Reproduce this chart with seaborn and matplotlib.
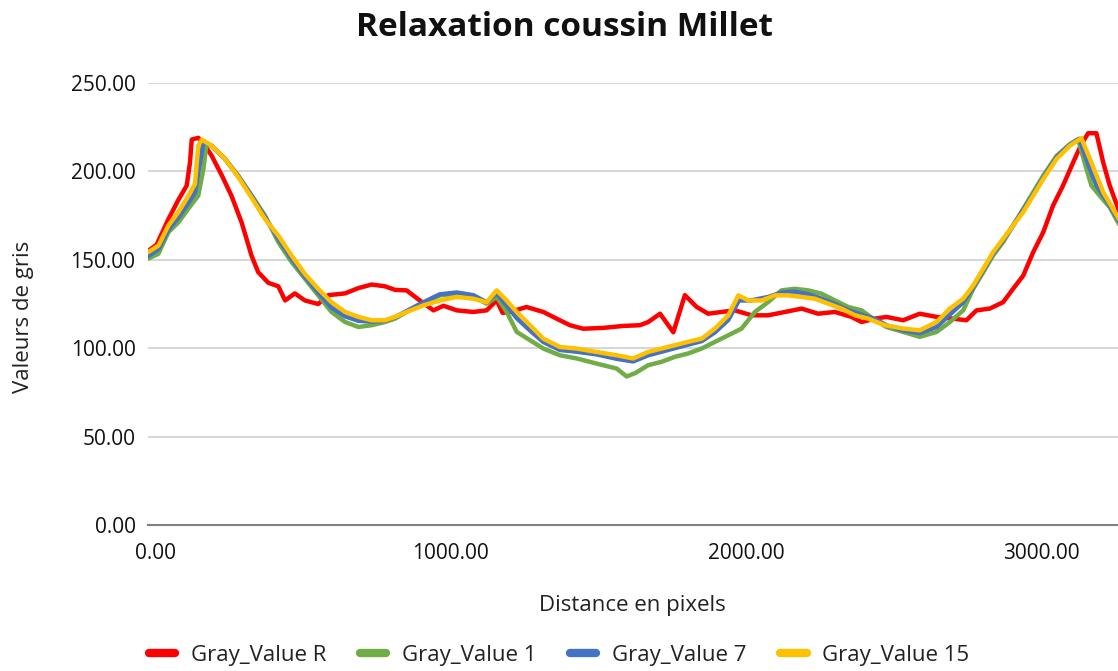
import matplotlib
matplotlib.use("Agg")
import matplotlib.pyplot as plt
import matplotlib.transforms as mtransforms
import pandas as pd
import seaborn as sns

# Valeurs (distance en pixels, valeur de gris)
R_X = [0, 29, 69, 103, 131, 142, 148, 170, 187, 215, 249, 283, 317, 351, 373, 407,
       441, 464, 497, 531, 576, 610, 667, 712, 757, 802, 836, 875, 920, 966, 1000,
       1045, 1101, 1146, 1180, 1200, 1225, 1281, 1338, 1394, 1428, 1473, 1541, 1609,
       1665, 1693, 1733, 1778, 1817, 1857, 1896, 1941, 1986, 2043, 2099, 2156, 2212,
       2268, 2325, 2381, 2415, 2460, 2499, 2556, 2612, 2669, 2725, 2770, 2804, 2849,
       2894, 2928, 2962, 2996, 3030, 3063, 3097, 3131, 3159, 3182, 3210, 3233, 3255, 3290]
R_Y = [155, 158.5, 173, 184, 192, 205, 218, 219, 216, 209, 198, 186, 171, 152, 143, 137,
       135, 127, 131, 127, 125, 130, 131, 134, 136, 135, 133, 132.7, 127, 121.4, 124,
       121.4, 120.5, 121.4, 127, 120, 120.5, 123.3, 120.5, 115.8, 113, 111, 111.5, 112.6,
       113, 114.8, 119.5, 109, 130, 123.3, 119.5, 120.5, 121.4, 118.6, 118.6, 120.5, 122.4,
       119.5, 120.5, 117.7, 114.8, 116.7, 117.7, 115.8, 119.5, 117.7, 116.7, 115.8, 121.4, 122.4,
       126, 133.6, 141, 154.3, 165.6, 180.6, 192, 205, 215.4, 221.6, 221.6, 205, 192, 176]

G_X = [0, 35, 69, 103, 136, 170, 187, 198, 215, 261, 306, 351, 396, 441, 486, 531,
       576, 621, 667, 712, 757, 802, 836, 875, 932, 988, 1045, 1101, 1146, 1180, 1214,
       1248, 1293, 1338, 1394, 1451, 1518, 1586, 1620, 1650, 1693, 1738, 1783, 1828,
       1874, 1919, 1964, 2009, 2054, 2099, 2144, 2189, 2235, 2280, 2325, 2370, 2415,
       2460, 2499, 2556, 2612, 2669, 2714, 2759, 2793, 2827, 2860, 2894, 2928, 2962,
       2996, 3030, 3075, 3120, 3148, 3170, 3193, 3221, 3255, 3290]
G_Y = [150.6, 153.4, 165.6, 171.2, 178.8, 186.3, 201, 215.4, 214.5, 207, 197.5, 186.3, 175, 160, 148.7, 139.3,
       129.9, 120.5, 114.8, 112, 113, 114.8, 116.7, 120.5, 125.2, 129.9, 130.8, 129, 125.2, 129, 120.5,
       109.2, 104.5, 99.8, 96, 94.2, 91.3, 88.5, 84, 86, 90.4, 92.3, 95.1, 97,
       99.8, 103.6, 107.3, 111.1, 120.5, 126.1, 132.7, 133.6, 132.7, 130.8, 127, 123.3, 121.4,
       116, 112, 109.2, 106.4, 109.2, 114.8, 121.4, 133.6, 143, 152.4, 160, 169.4, 178.8,
       188.2, 197.6, 208.8, 215.4, 218.2, 205, 192, 186.3, 179.7, 169]

B_X = [0, 35, 69, 103, 136, 159, 176, 188, 215, 261, 306, 351, 396, 441, 486, 531,
       576, 621, 667, 712, 757, 802, 836, 875, 932, 988, 1045, 1101, 1146, 1180, 1210,
       1248, 1293, 1338, 1394, 1451, 1518, 1586, 1642, 1693, 1738, 1783, 1828, 1874,
       1919, 1964, 2000, 2040, 2099, 2144, 2189, 2235, 2280, 2325, 2370, 2415, 2460,
       2499, 2556, 2612, 2669, 2714, 2759, 2793, 2827, 2860, 2894, 2928, 2962, 2996,
       3030, 3075, 3120, 3152, 3180, 3210, 3250, 3290]
B_Y = [152, 156, 167, 174, 182, 188, 205, 217, 214.5, 207, 197, 186, 174, 162, 150.5, 140.5,
       131.5, 123, 118, 115.5, 115, 115.5, 117.5, 121, 126, 130.5, 131.5, 130, 126, 131, 125,
       117, 110, 103.5, 99, 98, 96.5, 94, 92.5, 96, 98, 100, 102, 104,
       109, 116, 127, 127, 129, 131.5, 132, 130.5, 128, 125, 121.5, 119, 116.5,
       113, 110, 108.5, 112, 119, 126, 134.5, 144, 153.5, 161, 169.5, 178, 187,
       196.5, 208, 215, 218.5, 205, 192, 182, 171]

Y_X = [0, 35, 69, 103, 136, 159, 170, 182, 215, 261, 306, 351, 396, 441, 486, 531,
       576, 621, 667, 712, 757, 802, 836, 875, 932, 988, 1045, 1101, 1146, 1180, 1208,
       1248, 1293, 1338, 1394, 1451, 1518, 1586, 1642, 1693, 1738, 1783, 1828, 1874,
       1919, 1964, 1998, 2032, 2077, 2122, 2167, 2212, 2257, 2302, 2347, 2393, 2438,
       2494, 2556, 2612, 2669, 2714, 2759, 2793, 2827, 2860, 2894, 2928, 2962, 2996,
       3030, 3075, 3120, 3159, 3193, 3233, 3290]
Y_Y = [154.3, 158, 169.4, 177, 186, 192.9, 214.5, 218, 214.5, 207, 196.6, 185, 173, 163.7, 152.4, 142,
       133.6, 126, 120.5, 117.7, 115.8, 115.8, 117.7, 120.5, 124.2, 127, 129, 128, 126, 132.7, 128,
       120.5, 113, 105.4, 100.7, 99.8, 97.9, 96, 94.2, 97.9, 99.8, 101.7, 103.6, 105.4,
       111.1, 118.6, 129.9, 127, 127, 129.9, 129.9, 129, 128, 125.2, 122.4, 118.6, 116.7,
       113, 111.1, 110.1, 114.8, 122.4, 128, 135.5, 144.9, 154.3, 161.8, 169.4, 176.9, 186.3,
       195.7, 207, 214.5, 218.8, 205, 188.2, 172]

SERIES = ["Gray_Value R", "Gray_Value 1", "Gray_Value 7", "Gray_Value 15"]
COLORS = ["#FF0000", "#70AD47", "#4472C4", "#FFC000"]

df = pd.concat([
    pd.DataFrame({"Distance": R_X, "Valeur": R_Y, "Serie": SERIES[0]}),
    pd.DataFrame({"Distance": G_X, "Valeur": G_Y, "Serie": SERIES[1]}),
    pd.DataFrame({"Distance": B_X, "Valeur": B_Y, "Serie": SERIES[2]}),
    pd.DataFrame({"Distance": Y_X, "Valeur": Y_Y, "Serie": SERIES[3]}),
], ignore_index=True)

sns.set_theme(style="white")
plt.rcParams["font.family"] = ["Open Sans", "DejaVu Sans"]

fig = plt.figure(figsize=(11.18, 6.71), dpi=100)
ax = fig.add_axes([0.1324, 0.2176, 0.8676, 0.6587])

sns.lineplot(data=df, x="Distance", y="Valeur", hue="Serie", hue_order=SERIES,
             palette=COLORS, estimator=None, sort=False, linewidth=3.2, ax=ax,
             legend=False)

ax.set_xlim(0, 3283)
ax.set_ylim(0, 250)
ax.set_xticks([0, 1000, 2000, 3000])
ax.set_yticks([0, 50, 100, 150, 200, 250])
ax.xaxis.set_major_formatter(plt.FuncFormatter(lambda v, p: f"{v:.2f}"))
ax.yaxis.set_major_formatter(plt.FuncFormatter(lambda v, p: f"{v:.2f}"))
ax.tick_params(axis="both", length=0, labelsize=15, colors="#111111")
ax.tick_params(axis="x", pad=13)
ax.tick_params(axis="y", pad=9)

# les étiquettes de l'axe X sont un peu décalées vers la droite
offset = mtransforms.ScaledTranslation(7 / 100, 0, fig.dpi_scale_trans)
for lbl in ax.get_xticklabels():
    lbl.set_transform(lbl.get_transform() + offset)

ax.grid(axis="y", color="#D0D0D0", linewidth=1.2)
ax.grid(axis="x", visible=False)
ax.set_axisbelow(True)
for side in ["top", "right", "left"]:
    ax.spines[side].set_visible(False)
ax.spines["bottom"].set_color("#7F7F7F")
ax.spines["bottom"].set_linewidth(1.5)

ax.set_xlabel("")
ax.set_ylabel("")
fig.text(0.566, 1 - 606 / 671, "Distance en pixels", ha="center", va="center",
         fontsize=16, color="#222222")
fig.text(24 / 1118, 1 - 317 / 671, "Valeurs de gris", ha="center", va="center",
         rotation=90, fontsize=16, color="#222222")

fig.text(0.505, 1 - 28 / 671, "Relaxation coussin Millet", ha="center", va="center",
         fontsize=24, fontweight="bold", color="#111111")

handles = [plt.Line2D([], [], color=c, linewidth=6) for c in COLORS]
fig.legend(handles, SERIES, loc="center", bbox_to_anchor=(0.5, 1 - 655 / 671), ncol=4,
           frameon=False, fontsize=16, handlelength=1.2, handletextpad=0.7,
           columnspacing=1.5, labelcolor="#222222")

fig.savefig("out.png", dpi=100)
